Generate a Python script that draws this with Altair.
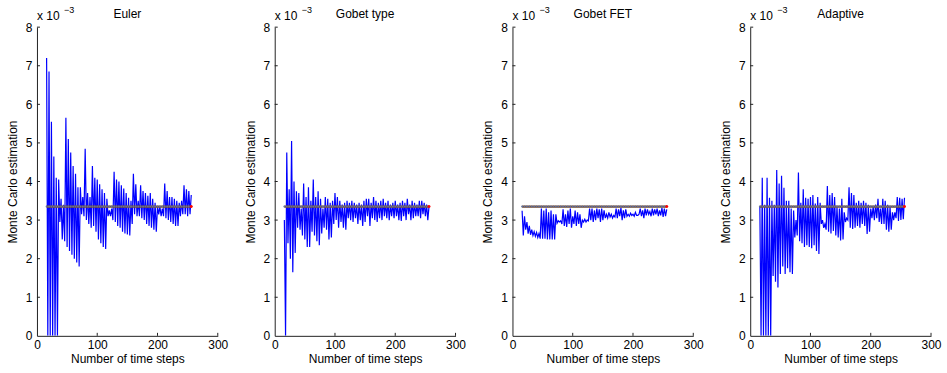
import altair as alt
import pandas as pd

# ---------------- data (values in units of 1e-3) ----------------
titles = ["Euler", "Gobet type", "Gobet FET", "Adaptive"]
x_ticks = [0, 100, 200, 300]
y_ticks = [0, 1, 2, 3, 4, 5, 6, 7, 8]
ref_value = 3.35
first_step = 16   # upper points at 16,20,...,256 ; lower points at 18,22,...,254

euler_hi = [7.2, 6.85, 5.55, 4.65, 4.1, 4.05, 3.55, 3.4, 5.65, 5.1, 4.75, 4.4, 4.2, 3.85, 3.85, 3.6,
            4.85, 3.7, 3.6, 4.4, 4.1, 4.05, 3.93, 3.8, 3.7, 3.55, 3.25, 3.3, 4.25, 4.05, 4.0, 3.9,
            3.82, 3.7, 3.58, 3.5, 4.2, 3.93, 3.5, 3.9, 3.75, 3.7, 3.63, 3.7, 3.55, 3.45, 3.35, 3.35,
            3.3, 3.95, 3.75, 3.6, 3.6, 3.55, 3.5, 3.45, 3.5, 3.9, 3.8, 3.75, 3.65]
euler_lo = [0, 0, 0, 0, 0, 2.95, 2.5, 2.45, 2.3, 2.2, 2.1, 2.0, 1.9, 1.8, 3.15, 3.1,
            3.0, 2.9, 2.8, 2.85, 2.7, 2.5, 2.4, 2.3, 2.25, 3.1, 3.1, 3.0, 2.95, 2.85, 2.8, 2.7,
            2.65, 2.63, 2.6, 2.9, 3.15, 3.1, 3.1, 3.05, 3.0, 2.9, 2.85, 2.8, 2.75, 2.7,
            3.15, 3.1, 3.1, 3.05, 3.0, 2.95, 2.9, 2.85, 2.85, 3.1, 3.15, 3.15, 3.1, 3.15]

gobet_hi = [3.0, 4.75, 3.8, 5.05, 4.0, 3.75, 3.7, 3.3, 3.95, 3.6, 3.85, 3.5, 4.05, 3.6, 3.75, 3.55,
            3.3, 3.6, 3.55, 3.45, 3.5, 3.7, 3.6, 3.5, 3.4, 3.45, 3.5, 3.45, 3.5, 3.45, 3.4, 3.45,
            3.4, 3.5, 3.55, 3.55, 3.45, 3.6, 3.5, 3.45, 3.5, 3.55, 3.45, 3.5, 3.4, 3.45, 3.5, 3.4,
            3.45, 3.5, 3.45, 3.55, 3.4, 3.5, 3.45, 3.4, 3.5, 3.5, 3.45, 3.4, 3.35]
gobet_lo = [0, 2.4, 2.0, 1.65, 2.15, 2.8, 2.75, 2.6, 2.5, 2.3, 2.3, 2.7, 2.6, 2.45, 2.35, 2.65,
            2.8, 2.75, 2.5, 2.55, 2.9, 3.0, 2.8, 2.95, 2.8, 2.75, 3.05, 3.0, 2.95, 3.05, 2.9, 3.0,
            2.85, 2.95, 3.1, 2.85, 3.05, 3.0, 2.95, 3.05, 3.0, 3.1, 3.05, 3.0, 3.1, 3.05, 3.1, 3.0,
            2.98, 3.1, 3.0, 3.15, 3.0, 3.05, 3.1, 3.1, 3.05, 3.15, 3.1, 3.0]

fet_hi = [3.24, 3.1, 2.95, 2.85, 2.75, 2.7, 2.68, 2.65, 3.3, 3.25, 3.3, 3.2, 3.25, 3.15, 3.15, 2.98,
          2.98, 3.28, 3.15, 3.25, 3.3, 3.1, 3.25, 3.2, 3.15, 3.0, 3.02, 3.0, 3.3, 3.3, 3.25, 3.3,
          3.28, 3.3, 3.25, 3.15, 3.2, 3.15, 3.12, 3.3, 3.28, 3.32, 3.25, 3.28, 3.15, 3.18, 3.15, 3.2,
          3.12, 3.3, 3.25, 3.3, 3.28, 3.22, 3.3, 3.28, 3.3, 3.25, 3.32, 3.3, 3.28]
fet_lo = [2.6, 2.75, 2.65, 2.62, 2.6, 2.58, 2.55, 2.52, 2.52, 2.52, 2.5, 2.5, 2.5, 2.5, 2.92, 2.95,
          2.9, 2.85, 2.82, 2.9, 2.8, 2.9, 2.85, 2.9, 2.8, 2.95, 2.95, 2.98, 3.0, 2.95, 3.0, 3.05,
          2.95, 3.0, 3.05, 3.05, 3.08, 3.05, 3.08, 3.05, 3.1, 3.0, 3.05, 3.1, 3.1, 3.12, 3.1, 3.12,
          3.15, 3.1, 3.05, 3.12, 3.15, 3.1, 3.12, 3.15, 3.1, 3.12, 3.08, 3.1]

adapt_hi = [3.35, 4.1, 3.4, 4.1, 3.58, 3.5, 3.4, 4.3, 3.95, 4.15, 3.84, 3.5, 3.5, 3.3, 3.25, 3.0,
            4.23, 3.45, 3.8, 3.58, 3.55, 3.6, 3.65, 3.43, 3.6, 3.45, 3.0, 2.9, 3.88, 3.65, 3.7, 3.6,
            3.35, 3.3, 3.55, 3.2, 3.05, 3.85, 3.7, 3.65, 3.45, 3.5, 3.45, 3.5, 3.45, 3.4, 3.3, 3.35,
            3.4, 3.55, 3.3, 3.55, 3.5, 3.4, 3.35, 3.2, 3.2, 3.6, 3.58, 3.55, 3.58]
adapt_lo = [0, 0, 0, 0, 0, 1.55, 1.4, 1.25, 1.6, 1.8, 1.6, 1.75, 1.65, 1.6, 2.55, 2.6,
            2.45, 2.4, 2.3, 2.35, 2.3, 2.27, 2.35, 2.2, 2.12, 2.9, 2.8, 2.75, 2.7, 2.65, 2.72, 2.6,
            2.55, 2.47, 2.5, 2.95, 3.0, 2.8, 2.77, 2.8, 2.85, 2.8, 2.9, 2.85, 2.64, 2.7,
            3.05, 3.0, 3.05, 2.95, 2.9, 2.9, 2.75, 2.7, 2.75, 3.0, 3.05, 2.98, 3.0, 3.02]

series = [(euler_hi, euler_lo), (gobet_hi, gobet_lo), (fet_hi, fet_lo), (adapt_hi, adapt_lo)]

# ---------------- styling ----------------
W, H = 181, 309
FONT = "Liberation Sans"
x_scale = alt.Scale(domain=[0, 300], nice=False, zero=False)
y_scale = alt.Scale(domain=[0, 8], nice=False, zero=False)

x_axis = alt.Axis(values=x_ticks, title="Number of time steps", grid=False,
                  ticks=False, tickSize=0, labelPadding=4, titlePadding=3,
                  labelFontSize=12, titleFontSize=12, labelFont=FONT, titleFont=FONT,
                  titleFontWeight="normal", labelColor="#000", titleColor="#000",
                  domainColor="#222", labelFlush=False, labelOverlap=False)
y_axis = alt.Axis(values=y_ticks, format="d", title="Monte Carlo estimation",
                  grid=False, ticks=False, tickSize=0, labelPadding=5,
                  titlePadding=6, labelFontSize=12, titleFontSize=12,
                  labelFont=FONT, titleFont=FONT, titleFontWeight="normal",
                  labelColor="#000", titleColor="#000", domainColor="#222",
                  labelFlush=False, labelOverlap=False)


def zigzag(hi, lo):
    rows = []
    for i, v in enumerate(hi):
        rows.append({"n": first_step + 4 * i, "v": v})
        if i < len(lo):
            rows.append({"n": first_step + 2 + 4 * i, "v": lo[i]})
    return pd.DataFrame(rows)


def X(field):
    return alt.X(field, scale=x_scale, axis=x_axis)


def Y(field):
    return alt.Y(field, scale=y_scale, axis=y_axis)


def panel(title, hi, lo):
    df = zigzag(hi, lo)
    ref_df = pd.DataFrame({"n": [first_step + 4 * i for i in range(len(hi))],
                           "v": [ref_value] * len(hi)})
    end_df = ref_df.tail(1)

    line = alt.Chart(df).mark_line(color="#0000ff", strokeWidth=1.2, clip=True).encode(
        x=X("n:Q"), y=Y("v:Q"), order="n:Q")
    ref_line = alt.Chart(ref_df).mark_line(color="#7a4b26", strokeWidth=2.2).encode(
        x=X("n:Q"), y=Y("v:Q"))
    ref_pts = alt.Chart(ref_df).mark_point(filled=True, color="#5f6f9c", size=4, opacity=1).encode(
        x=X("n:Q"), y=Y("v:Q"))
    end_pt = alt.Chart(end_df).mark_point(filled=True, color="#ff0000", size=9, opacity=1).encode(
        x=X("n:Q"), y=Y("v:Q"))

    xt = alt.Chart(pd.DataFrame({"t": x_ticks[1:]})).mark_rule(color="#222").encode(
        x=X("t:Q"), y=alt.value(H), y2=alt.value(H - 3))
    yt = alt.Chart(pd.DataFrame({"t": y_ticks[1:]})).mark_rule(color="#222").encode(
        y=Y("t:Q"), x=alt.value(0), x2=alt.value(3))

    exp_base = alt.Chart(pd.DataFrame({"s": ["x 10"]})).mark_text(
        align="left", baseline="alphabetic", fontSize=12, font=FONT, color="#000").encode(
        text="s:N", x=alt.value(0), y=alt.value(-7))
    exp_sup = alt.Chart(pd.DataFrame({"s": ["\u22123"]})).mark_text(
        align="left", baseline="alphabetic", fontSize=9, font=FONT, color="#000").encode(
        text="s:N", x=alt.value(27), y=alt.value(-14))
    ttl = alt.Chart(pd.DataFrame({"s": [title]})).mark_text(
        align="center", baseline="alphabetic", fontSize=12, font=FONT, color="#000").encode(
        text="s:N", x=alt.value(W / 2), y=alt.value(-9))

    return alt.layer(line, ref_line, ref_pts, end_pt, xt, yt, exp_base, exp_sup, ttl).properties(
        width=W, height=H)


charts = [panel(t, hi, lo) for t, (hi, lo) in zip(titles, series)]

chart = alt.hconcat(*charts, spacing=57, bounds="flush").properties(
    padding={"left": 6, "top": 6, "right": 5, "bottom": 5},
    background="white",
).configure_view(stroke=None).configure_axis(domainWidth=1)

chart.save("out.html", embed_options={"renderer": "svg", "actions": False})
